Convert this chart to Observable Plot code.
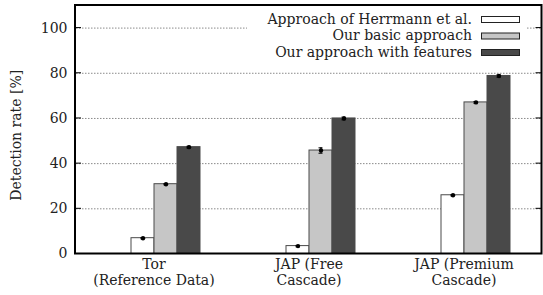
<!DOCTYPE html>
<html>
<head>
<meta charset="utf-8">
<script src="https://cdn.jsdelivr.net/npm/d3@7"></script>
<script src="https://cdn.jsdelivr.net/npm/@observablehq/plot@0.6"></script>
<style>
  html, body { margin: 0; padding: 0; background: white; }
</style>
</head>
<body>
<div id="chart"></div>
<script>
// ---- data ----
const categories = ["Tor\n(Reference Data)", "JAP (Free\nCascade)", "JAP (Premium\nCascade)"];
const seriesNames = ["Approach of Herrmann et al.", "Our basic approach", "Our approach with features"];
const herrmann = [7.0, 3.5, 26.0];
const basic = [30.9, 45.8, 67.1];
const features = [47.3, 60.0, 78.8];
const herrmannErr = [0.3, 0.3, 0.3];
const basicErr = [0.3, 1.2, 0.4];
const featuresErr = [0.4, 0.6, 0.5];
const yTicks = [0, 20, 40, 60, 80, 100];
const fills = ["#ffffff", "#c6c6c6", "#494949"];
const yLabel = "Detection rate [%]";

const values = [herrmann, basic, features];
const errs = [herrmannErr, basicErr, featuresErr];
const rows = [];
categories.forEach((cat, i) => {
  seriesNames.forEach((s, j) => {
    rows.push({cat, series: s, value: values[j][i], lo: values[j][i] - errs[j][i], hi: values[j][i] + errs[j][i]});
  });
});

const FONT = "'DejaVu Serif', 'Liberation Serif', serif";
const FS = 14;

const plot = Plot.plot({
  width: 543,
  height: 295,
  marginLeft: 75,
  marginRight: 1.5,
  marginTop: 5,
  marginBottom: 41.5,
  style: {fontFamily: FONT, fontSize: FS + "px", color: "#222", background: "white"},
  fx: {domain: categories, padding: 0, label: null, axis: null},
  x: {domain: seriesNames, paddingInner: 0, paddingOuter: 1.805, align: 0.6385, axis: null},
  y: {domain: [0, 110], label: null, axis: null},
  color: {domain: seriesNames, range: fills},
  marks: [
    Plot.gridY(yTicks.filter(d => d > 0), {stroke: "#8a8a8a", strokeOpacity: 1, strokeWidth: 1, strokeDasharray: "1.5,1.5"}),
    Plot.barY(rows, {fx: "cat", x: "series", y: "value", fill: "series", stroke: "#4a4a4a", strokeWidth: 1}),
    Plot.ruleX(rows, {fx: "cat", x: "series", y1: "lo", y2: "hi", stroke: "black", strokeWidth: 1.2}),
    Plot.tickY(rows, {fx: "cat", x: "series", y: "lo", stroke: "black", insetLeft: 9.5, insetRight: 9.5}),
    Plot.tickY(rows, {fx: "cat", x: "series", y: "hi", stroke: "black", insetLeft: 9.5, insetRight: 9.5}),
    Plot.dot(rows, {fx: "cat", x: "series", y: "value", r: 2.2, fill: "black"}),
    Plot.axisY(yTicks, {anchor: "left", tickSize: 0, tickPadding: 9, label: null, fontSize: FS, fill: "#222"}),
    Plot.axisFx({anchor: "bottom", tickSize: 0, tickPadding: 3, label: null, fontSize: FS, lineHeight: 1.18, fill: "#222"})
  ]
});

document.getElementById("chart").appendChild(plot);

// ---- overlay: border, inward ticks, y label, key ----
const svg = d3.select(plot);
const ys = plot.scale("y");
const fxs = plot.scale("fx");
const x0 = fxs.range[0], x1 = fxs.range[1];
const y0 = ys.range[0], y1 = ys.range[1];

const g = svg.append("g");
// inward ticks
yTicks.forEach(t => {
  const yy = ys.apply(t);
  g.append("line").attr("x1", x0).attr("x2", x0 + 6).attr("y1", yy).attr("y2", yy).attr("stroke", "black");
  g.append("line").attr("x1", x1 - 6).attr("x2", x1).attr("y1", yy).attr("y2", yy).attr("stroke", "black");
});

// key
const keyRight = 472, swX = 481.5, swW = 38, swH = 6;
const rowY = [19.5, 36, 52.5];
g.append("rect").attr("x", 247).attr("y", 11).attr("width", 279).attr("height", 50).attr("fill", "white");
seriesNames.forEach((s, j) => {
  g.append("text").attr("x", keyRight).attr("y", rowY[j]).attr("dy", "0.32em")
    .attr("text-anchor", "end").attr("font-family", FONT).attr("font-size", FS).attr("fill", "#222").text(s);
  g.append("rect").attr("x", swX).attr("y", rowY[j] - swH / 2).attr("width", swW).attr("height", swH)
    .attr("fill", fills[j]).attr("stroke", "#222").attr("stroke-width", 1);
});

// border
g.append("rect").attr("x", x0).attr("y", y1).attr("width", x1 - x0).attr("height", y0 - y1)
  .attr("fill", "none").attr("stroke", "black").attr("stroke-width", 2);

// y label
g.append("text").attr("transform", `translate(17,${(y0 + y1) / 2 + 6}) rotate(-90)`)
  .attr("text-anchor", "middle").attr("dy", "0.32em")
  .attr("font-family", FONT).attr("font-size", FS).attr("fill", "#222").text(yLabel);
</script>
</body>
</html>
